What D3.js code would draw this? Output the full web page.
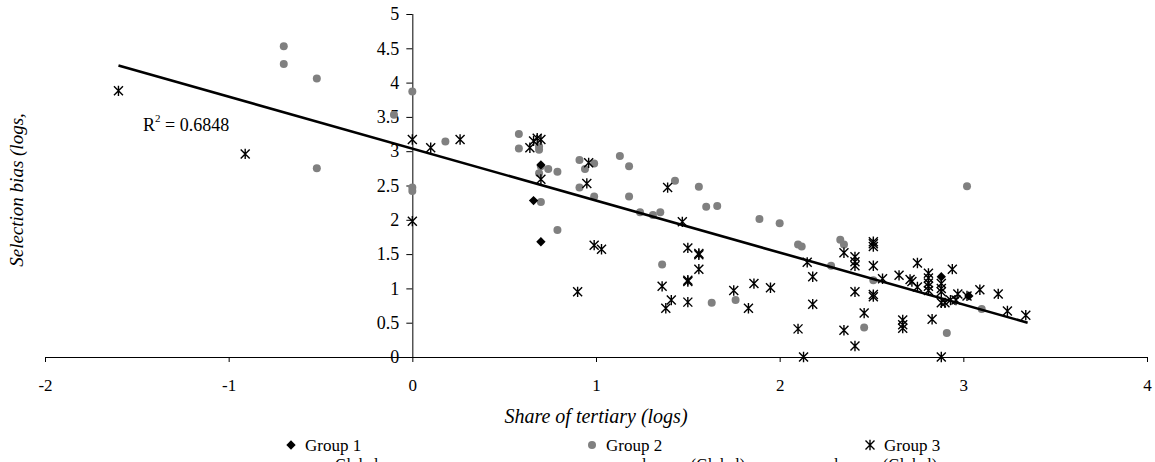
<!DOCTYPE html>
<html><head><meta charset="utf-8">
<script src="https://cdn.jsdelivr.net/npm/d3@7/dist/d3.min.js"></script>
<style>
html,body{margin:0;padding:0;background:#fff;overflow:hidden;}
text{font-family:"Liberation Serif","Times New Roman",serif;fill:#000;}
</style></head>
<body>
<svg id="chart" width="1155" height="462"></svg>
<script>
// ---- data ----
const xTicks = [-2, -1, 0, 1, 2, 3, 4];
const yTicks = [0, 0.5, 1, 1.5, 2, 2.5, 3, 3.5, 4, 4.5, 5];
const seriesNames = ["Group 1", "Group 2", "Group 3"];
const group1 = [[0.70,2.80],[0.66,2.28],[0.70,1.68],[2.88,1.17],[3.03,0.89]];
const group2 = [[-0.70,4.53],[-0.70,4.27],[-0.52,4.06],[-0.52,2.75],[-0.10,3.53],[0,3.87],[0,2.47],[0,2.42],
 [0.18,3.14],[0.58,3.25],[0.58,3.04],[0.69,3.07],[0.69,3.02],[0.70,2.78],[0.74,2.74],[0.79,2.70],[0.69,2.68],
 [0.70,2.26],[0.79,1.85],[0.91,2.87],[0.94,2.74],[0.99,2.82],[0.91,2.47],[0.99,2.34],[1.13,2.93],[1.18,2.78],
 [1.18,2.34],[1.24,2.11],[1.31,2.07],[1.35,2.11],[1.43,2.57],[1.56,2.48],[1.60,2.19],[1.66,2.20],[1.36,1.35],
 [1.63,0.79],[1.76,0.83],[1.89,2.01],[2.00,1.95],[2.10,1.64],[2.12,1.61],[2.28,1.33],[2.33,1.71],[2.35,1.64],
 [2.51,1.12],[2.46,0.43],[2.91,0.35],[3.10,0.70],[3.02,2.49]];
const group3 = [[-1.60,3.88],[-0.91,2.96],[0,3.17],[0,1.98],[0.10,3.05],[0.26,3.17],[0.64,3.05],[0.66,3.15],
 [0.68,3.19],[0.70,3.17],[0.70,2.59],[0.96,2.83],[0.95,2.53],[1.39,2.47],[1.47,1.97],[0.99,1.63],[1.03,1.57],
 [0.90,0.95],[1.50,1.59],[1.56,1.49],[1.56,1.51],[1.56,1.28],[1.36,1.03],[1.50,1.12],[1.50,1.10],[1.41,0.83],
 [1.38,0.71],[1.50,0.80],[1.75,0.97],[1.83,0.71],[1.86,1.07],[1.95,1.01],[2.15,1.38],[2.18,1.17],[2.18,0.77],
 [2.10,0.41],[2.13,0.0],[2.35,1.52],[2.41,1.46],[2.41,1.39],[2.41,1.33],[2.51,1.68],[2.51,1.65],[2.51,1.61],
 [2.51,1.33],[2.56,1.14],[2.41,0.95],[2.51,0.91],[2.51,0.88],[2.46,0.64],[2.41,0.16],[2.35,0.39],[2.65,1.19],
 [2.71,1.13],[2.72,1.10],[2.75,1.37],[2.75,1.02],[2.67,0.54],[2.67,0.47],[2.67,0.42],[2.83,0.55],[2.81,1.22],
 [2.81,1.15],[2.81,1.08],[2.81,1.03],[2.81,0.97],[2.88,1.07],[2.88,1.00],[2.88,0.95],[2.94,1.28],[2.88,0.79],
 [2.90,0.79],[2.93,0.83],[2.88,0.0],[2.97,0.92],[3.02,0.89],[2.96,0.83],[3.09,0.98],[3.19,0.92],[3.24,0.67],[3.34,0.61]];
const trendLine = [[-1.60,4.25],[3.35,0.50]];
const rSquared = "0.6848";
const xTitle = "Share of tertiary (logs)";
const yTitle = "Selection bias (logs,";
const clippedRow = ["Global", "dummy (Global)", "dummy (Global)"];

// ---- drawing ----
const svg = d3.select("#chart");
const x = d3.scaleLinear().domain([-2, 4]).range([45, 1147]);
const y = d3.scaleLinear().domain([0, 5]).range([357, 14]);
const FONT = '"Liberation Serif","Times New Roman",serif';

const xAxis = d3.axisBottom(x).tickValues(xTicks).tickSize(5).tickPadding(17);
const gx = svg.append("g").attr("transform", `translate(0,${y(0)})`).call(xAxis);
gx.select(".domain").attr("stroke", "#000").attr("stroke-width", 1).attr("d", `M${x(-2)},0.5H${x(4)}`);
gx.selectAll(".tick line").attr("stroke", "#000");
gx.selectAll(".tick text").style("font-size", "17px").style("font-family", FONT).attr("fill", "#000")
  .text(d => d < 0 ? "-" + Math.abs(d) : String(d));

const yAxis = d3.axisLeft(y).tickValues(yTicks).tickSize(6).tickPadding(7).tickFormat(d => String(d));
const gy = svg.append("g").attr("transform", `translate(${x(0)},0)`).call(yAxis);
gy.select(".domain").attr("stroke", "#000").attr("d", `M0.5,${y(0)}V${y(5)}`);
gy.selectAll(".tick line").attr("stroke", "#000");
gy.selectAll(".tick text").style("font-size", "18px").style("font-family", FONT).attr("fill", "#000");

// markers
const starPath = s => `M${-s},${-s}L${s},${s}M${-s},${s}L${s},${-s}M0,${-s*1.15}L0,${s*1.15}`;
const plot = svg.append("g");

plot.selectAll(".g2").data(group2).join("circle")
  .attr("cx", d => x(d[0])).attr("cy", d => y(d[1])).attr("r", 4).attr("fill", "#808080");

plot.selectAll(".g1").data(group1).join("path")
  .attr("transform", d => `translate(${x(d[0])},${y(d[1])}) rotate(45)`)
  .attr("d", "M-3.3,-3.3H3.3V3.3H-3.3Z").attr("fill", "#000");

plot.selectAll(".g3").data(group3).join("path")
  .attr("transform", d => `translate(${x(d[0])},${y(d[1])})`)
  .attr("d", starPath(4.5)).attr("stroke", "#000").attr("stroke-width", 1.4).attr("fill", "none");

// trend line
svg.append("path").datum(trendLine)
  .attr("d", d3.line().x(d => x(d[0])).y(d => y(d[1])))
  .attr("stroke", "#000").attr("stroke-width", 2.6).attr("fill", "none");

// R^2 label
const rt = svg.append("text").attr("x", 143).attr("y", 131).style("font-size", "18px");
rt.append("tspan").text("R");
rt.append("tspan").attr("dy", -9).style("font-size", "11px").text("2");
rt.append("tspan").attr("dy", 9).text(" = " + rSquared);

// axis titles
svg.append("text").attr("x", x(1)).attr("y", 423).attr("text-anchor", "middle")
  .style("font-size", "20px").style("font-style", "italic").text(xTitle);
svg.append("text").attr("transform", "translate(23,190) rotate(-90)").attr("text-anchor", "middle")
  .style("font-size", "19px").style("font-style", "italic").text(yTitle);

// legend
const legendX = [291, 592, 870];
const lg = svg.append("g");
seriesNames.forEach((name, i) => {
  const cx = legendX[i], cy = 445;
  if (i === 0) lg.append("path").attr("transform", `translate(${cx},${cy}) rotate(45)`).attr("d", "M-3.3,-3.3H3.3V3.3H-3.3Z").attr("fill", "#000");
  if (i === 1) lg.append("circle").attr("cx", cx).attr("cy", cy).attr("r", 4).attr("fill", "#808080");
  if (i === 2) lg.append("path").attr("transform", `translate(${cx},${cy})`).attr("d", starPath(4.5)).attr("stroke", "#000").attr("stroke-width", 1.4);
  lg.append("text").attr("x", cx + 14).attr("y", cy + 6).style("font-size", "17px").text(name);
});
// clipped second legend row (cut off at the bottom edge, as in the reference)
svg.append("text").attr("x", 335).attr("y", 470).style("font-size", "16px").text(clippedRow[0]);
svg.append("text").attr("x", 745).attr("y", 470).attr("text-anchor", "end").style("font-size", "16px").text(clippedRow[1]);
svg.append("text").attr("x", 937).attr("y", 470).attr("text-anchor", "end").style("font-size", "16px").text(clippedRow[2]);
</script>
</body></html>
